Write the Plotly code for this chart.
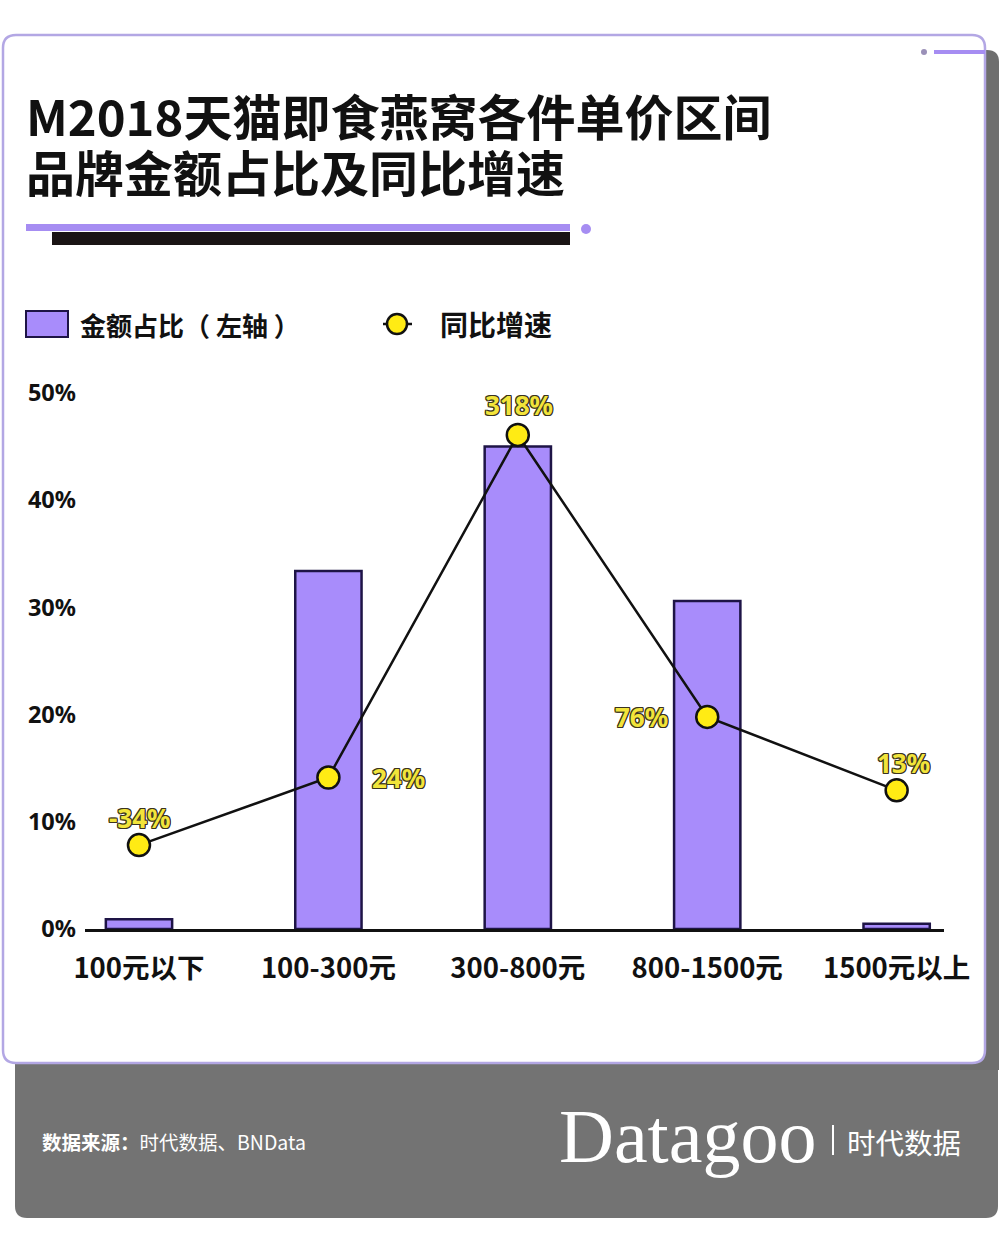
import plotly.graph_objects as go

# ---------------- data ----------------
categories = ["100元以下", "100-300元", "300-800元", "800-1500元", "1500元以上"]
share_pct = [0.9, 33.4, 45.0, 30.6, 0.5]          # 金额占比 (left axis, %)
growth_pct = [-34, 24, 318, 76, 13]               # 同比增速 (%)
growth_labels = ["-34%", "24%", "318%", "76%", "13%"]
y_ticks = [0, 10, 20, 30, 40, 50]
y_ticktext = ["0%", "10%", "20%", "30%", "40%", "50%"]
title_lines = ["M2018天猫即食燕窝各件单价区间", "品牌金额占比及同比增速"]

# label offsets (pixels) relative to each marker
label_xshift = [1, 70, 1, -66, 7]
label_yshift = [27, 0, 30, 0, 27]

W, H = 1000, 1250


def px(x):
    return x / W


def py(y):
    return 1 - y / H


BAR_FILL = "#A88CFB"
BAR_LINE = "#1E1446"
YELLOW = "#FFEB14"
LABEL_YELLOW = "#F2E43A"
PURPLE = "#A68DF2"
BORDER = "#B3A7E4"
FOOTER = "#737373"

fig = go.Figure()

fig.add_trace(go.Bar(
    x=categories, y=share_pct, width=0.35,
    marker=dict(color=BAR_FILL, line=dict(color=BAR_LINE, width=2.5)),
    hoverinfo="skip", showlegend=False,
))

fig.add_trace(go.Scatter(
    x=categories, y=growth_pct, yaxis="y2",
    mode="lines+markers",
    line=dict(color="#111111", width=2.5),
    marker=dict(size=22, color=YELLOW, line=dict(color="#111111", width=2.5)),
    cliponaxis=False, hoverinfo="skip", showlegend=False,
))

outline = ("-1px -1px 0 #3a3320, 1px -1px 0 #3a3320, -1px 1px 0 #3a3320, "
           "1px 1px 0 #3a3320, 0 1px 0 #3a3320, 0 -1px 0 #3a3320, "
           "1px 0 0 #3a3320, -1px 0 0 #3a3320")

shapes = []


def rounded_rect(x0, y0, x1, y1, r, tl=True, tr=True, br=True, bl=True):
    def P(x, y):
        return f"{px(x):.5f},{py(y):.5f}"
    d = ""
    d += f"M {P(x0 + (r if tl else 0), y0)} "
    d += f"L {P(x1 - (r if tr else 0), y0)} "
    if tr:
        d += f"Q {P(x1, y0)} {P(x1, y0 + r)} "
    d += f"L {P(x1, y1 - (r if br else 0))} "
    if br:
        d += f"Q {P(x1, y1)} {P(x1 - r, y1)} "
    d += f"L {P(x0 + (r if bl else 0), y1)} "
    if bl:
        d += f"Q {P(x0, y1)} {P(x0, y1 - r)} "
    d += f"L {P(x0, y0 + (r if tl else 0))} "
    if tl:
        d += f"Q {P(x0, y0)} {P(x0 + r, y0)} "
    d += "Z"
    return d


# footer gray block
shapes.append(dict(type="path", xref="paper", yref="paper", layer="below",
                   path=rounded_rect(15, 1040, 998, 1218, 12, tl=False, tr=False),
                   fillcolor=FOOTER, line=dict(width=0)))
# right shadow strip
shapes.append(dict(type="path", xref="paper", yref="paper", layer="below",
                   path=rounded_rect(960, 50, 999, 1070, 12, tl=False, bl=False, br=False),
                   fillcolor="#6e6e6e", line=dict(width=0)))
# card
shapes.append(dict(type="path", xref="paper", yref="paper", layer="below",
                   path=rounded_rect(3, 35, 985, 1063, 13),
                   fillcolor="white", line=dict(color=BORDER, width=2.5)))
# top-right decoration
shapes.append(dict(type="line", xref="paper", yref="paper", layer="below",
                   x0=px(934), x1=px(985), y0=py(52), y1=py(52),
                   line=dict(color=PURPLE, width=4)))
shapes.append(dict(type="circle", xref="paper", yref="paper", layer="below",
                   x0=px(921), x1=px(927), y0=py(49), y1=py(55),
                   fillcolor="#9a90b8", line=dict(width=0)))
# title underline decoration
shapes.append(dict(type="rect", xref="paper", yref="paper", layer="below",
                   x0=px(52), x1=px(570), y0=py(245), y1=py(232),
                   fillcolor="#1a1414", line=dict(width=0)))
shapes.append(dict(type="rect", xref="paper", yref="paper", layer="below",
                   x0=px(26), x1=px(570), y0=py(231), y1=py(224),
                   fillcolor=PURPLE, line=dict(width=0)))
shapes.append(dict(type="circle", xref="paper", yref="paper", layer="below",
                   x0=px(581), x1=px(591), y0=py(224), y1=py(234),
                   fillcolor=PURPLE, line=dict(width=0)))
# legend: bar swatch
shapes.append(dict(type="rect", xref="paper", yref="paper", layer="below",
                   x0=px(26), x1=px(68), y0=py(337), y1=py(311),
                   fillcolor=BAR_FILL, line=dict(color=BAR_LINE, width=2)))
# legend: line + marker
shapes.append(dict(type="line", xref="paper", yref="paper", layer="below",
                   x0=px(383), x1=px(412), y0=py(324), y1=py(324),
                   line=dict(color="#111111", width=2.5)))
shapes.append(dict(type="circle", xref="paper", yref="paper", layer="below",
                   x0=px(387), x1=px(407), y0=py(314), y1=py(334),
                   fillcolor=YELLOW, line=dict(color="#111111", width=2.5)))
# footer separator
shapes.append(dict(type="line", xref="paper", yref="paper",
                   x0=px(833), x1=px(833), y0=py(1125), y1=py(1155),
                   line=dict(color="white", width=2)))

CJK = "Noto Sans CJK SC"
annotations = [
    dict(text=f"<b>{title_lines[0]}</b>", x=px(24), y=py(114), height=54,
         font=dict(family=CJK, size=49, color="#111111")),
    dict(text=f"<b>{title_lines[1]}</b>", x=px(24), y=py(170), height=54,
         font=dict(family=CJK, size=49, color="#111111")),
    dict(text="<b>金额占比（ 左轴 ）</b>", x=px(78), y=py(324),
         font=dict(family=CJK, size=26, color="#111111")),
    dict(text="<b>同比增速</b>", x=px(438), y=py(324),
         font=dict(family=CJK, size=28, color="#111111")),
    dict(text="<b>数据来源：</b>时代数据、BNData", x=px(40), y=py(1141),
         font=dict(family=CJK, size=19.5, color="white")),
    dict(text="Datagoo", x=px(557), y=py(1136),
         font=dict(family="Liberation Serif", size=76, color="white")),
    dict(text="时代数据", x=px(845), y=py(1141),
         font=dict(family=CJK, size=28.5, color="white")),
]
for a in annotations:
    a.update(xref="paper", yref="paper", xanchor="left", yanchor="middle",
             showarrow=False)

# growth labels placed in data coordinates of the secondary axis
for cat, val, lab, dx, dy in zip(categories, growth_pct, growth_labels,
                                 label_xshift, label_yshift):
    annotations.append(dict(
        text=f"<b>{lab}</b>", x=cat, y=val, xref="x", yref="y2",
        xshift=dx, yshift=dy, showarrow=False,
        xanchor="center", yanchor="middle",
        font=dict(family="Noto Sans, DejaVu Sans", size=26, color=LABEL_YELLOW,
                  shadow=outline),
    ))

fig.update_layout(
    width=W, height=H,
    margin=dict(l=0, r=0, t=0, b=0, pad=0, autoexpand=False),
    paper_bgcolor="white", plot_bgcolor="rgba(0,0,0,0)",
    shapes=shapes, annotations=annotations,
    bargap=0.65,
    xaxis=dict(domain=[px(85), px(944)], range=[-0.285, 4.25],
               automargin=False,
               showline=True, linecolor="#111111", linewidth=2.5,
               showgrid=False, zeroline=False, ticks="",
               ticklabelstandoff=13,
               tickfont=dict(family=CJK, size=27.5, color="#111111", weight="bold")),
    yaxis=dict(domain=[py(929), py(393)], range=[0, 50],
               automargin=False,
               tickvals=y_ticks, ticktext=y_ticktext,
               showline=False, showgrid=False, zeroline=False, ticks="",
               ticklabelstandoff=8,
               tickfont=dict(family="Noto Sans, DejaVu Sans", size=23.5, color="#111111",
                             weight="bold")),
    yaxis2=dict(overlaying="y", range=[-106, 354], visible=False,
                automargin=False, showgrid=False, zeroline=False),
)

fig.write_html("out.html", config={"displayModeBar": False},
               post_script="document.body.style.margin='0';")
